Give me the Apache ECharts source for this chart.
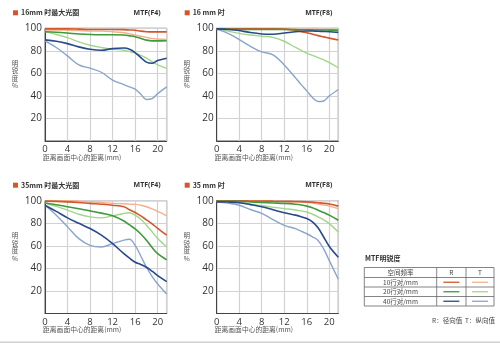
<!DOCTYPE html>
<html><head><meta charset="utf-8">
<script src="https://cdn.jsdelivr.net/npm/echarts@6/dist/echarts.min.js"></script>
<style>html,body{margin:0;padding:0;background:#fff}#c{width:500px;height:343px}</style>
</head><body><div id="c"></div>
<script>
// Distance from image centre (mm)
const X = [0, 2, 4, 6, 8, 10, 12, 14, 15, 16, 17, 18, 19, 20, 21.6];
const xTicks = [0, 4, 8, 12, 16, 20];
const yTicks = [20, 40, 60, 80, 100];

// Panel 1: 16mm wide open MTF(F4)
const p1_10R = [99.5, 99.5, 99.5, 99.3, 99, 99, 99, 98.8, 98.5, 98.3, 97.5, 97, 96.8, 96.8, 96.8];
const p1_10T = [98.5, 98.5, 98.3, 98, 97.5, 97.5, 97, 96, 95, 94, 93, 92, 91, 90.5, 90];
const p1_20R = [97, 96.5, 95.8, 95, 94.5, 94.3, 94.3, 94, 93.3, 92.5, 91, 89.5, 88.8, 88.8, 89];
const p1_20T = [97, 94.5, 91.7, 88, 85, 83, 81.5, 80.5, 79.3, 78, 76, 73.5, 70.5, 67.5, 64.5];
const p1_40R = [89.7, 88.5, 86.4, 83.5, 81.4, 80.5, 82, 82.5, 81.5, 78.5, 74, 70, 69, 71.5, 73.5];
const p1_40T = [88.8, 83, 75.5, 67.5, 64.6, 61, 54, 50, 48, 46, 41.5, 36.8, 37.5, 42, 48];

// Panel 2: 16mm MTF(F8)
const p2_10R = [99.6, 99.6, 99.6, 99.6, 99.5, 99.5, 99.3, 98.2, 97, 96, 94.8, 93.5, 92.4, 91.3, 89.6];
const p2_10T = [99.6, 99.6, 99.5, 99.5, 99.5, 99.5, 99.4, 99.3, 99.2, 99.2, 99.2, 99.1, 99, 99, 98.8];
const p2_20R = [99.3, 99.2, 99, 99, 99, 99, 99, 98.8, 98.7, 98.7, 98.6, 98.5, 98.5, 98.4, 98.3];
const p2_20T = [99.3, 97.5, 95.5, 94, 93, 92, 88.5, 83, 80.5, 78, 76, 74, 72, 69.5, 65];
const p2_40R = [99.5, 99, 98, 96.2, 95, 94.7, 95.8, 97, 97.4, 97.6, 97.6, 97.4, 97.2, 97, 96.4];
const p2_40T = [99, 95.5, 90, 84, 79, 76.5, 67.5, 56, 50, 44.5, 38.5, 35, 35.5, 40, 45.7];

// Panel 3: 35mm wide open MTF(F4)
const p3_10R = [99.6, 99.4, 99, 98.4, 97.6, 96.9, 96, 94.6, 92, 89.5, 86.5, 83, 79.5, 75.5, 69.5];
const p3_10T = [100, 100, 100, 99.6, 99, 98.4, 97.6, 97.3, 97, 96.7, 96, 94.6, 92.8, 90.5, 86.6];
const p3_20R = [98, 96.4, 94.6, 92.8, 91, 89, 86.6, 82, 78.5, 75, 70.5, 65, 58.5, 53, 47.5];
const p3_20T = [98, 95, 91.7, 88, 85.7, 84.8, 86.6, 88.7, 89.3, 87.2, 83.5, 78.3, 72.5, 66.4, 59];
const p3_40R = [96, 90.5, 84.8, 80, 75.3, 69.5, 62, 53, 49, 45.5, 43.5, 41, 37.5, 33.6, 28.3];
const p3_40T = [96, 87.2, 76.8, 66.4, 60.4, 59, 62, 65, 65.8, 60.4, 51, 41, 33, 26.2, 17.3];

// Panel 4: 35mm MTF(F8)
const p4_10R = [100, 100, 100, 99.8, 99.7, 99.6, 99.5, 99.3, 99.2, 99, 98.7, 98.2, 97.7, 97, 95.2];
const p4_10T = [99.6, 99.6, 99.6, 99.5, 99.4, 99.2, 99, 98.8, 98.7, 98.5, 98, 97, 96.2, 95.2, 93];
const p4_20R = [99.5, 99.5, 99.4, 99, 98.5, 98, 97.6, 96.8, 96.2, 95.2, 93.7, 91.6, 89.5, 87.2, 82.7];
const p4_20T = [99.5, 99.2, 98.5, 97, 95.5, 94.2, 93, 91.8, 91, 90, 88, 85.7, 83, 79.7, 72.2];
const p4_40R = [99, 98.8, 98.2, 96.5, 94.6, 92, 89.3, 87.2, 85.8, 84.2, 81.2, 76, 67.8, 59.4, 49.9];
const p4_40T = [99, 97.8, 96, 92.2, 88.7, 83.3, 78.2, 75.2, 73, 70.7, 68, 64.8, 57.3, 46.9, 30.4];

const panelTitles = ['16mm 时最大光圈', '16 mm 时', '35mm 时最大光圈', '35 mm 时'];
const panelMTF = ['MTF(F4)', 'MTF(F8)', 'MTF(F4)', 'MTF(F8)'];
const xName = '距离画面中心的距离(mm)';
const yNameChars = ['明', '锐', '度', '%'];
const legendRows = ['10行对/mm', '20行对/mm', '40行对/mm'];
const legendHeader = ['空间频率', 'R', 'T'];
const legendTitle = 'MTF明锐度';
const legendNote = 'R：径向值  T：纵向值';

const panels = [
  [p1_10R, p1_10T, p1_20R, p1_20T, p1_40R, p1_40T],
  [p2_10R, p2_10T, p2_20R, p2_20T, p2_40R, p2_40T],
  [p3_10R, p3_10T, p3_20R, p3_20T, p3_40R, p3_40T],
  [p4_10R, p4_10T, p4_20R, p4_20T, p4_40R, p4_40T]
];
const colors = ['#d0582c', '#f2b08c', '#3e9a3a', '#a2d68a', '#274a8c', '#8aa4cc'];
const widths = [1.6, 1.4, 1.6, 1.4, 1.6, 1.4];

const gridPos = [
  {left: 45, top: 28.3, width: 121.7, height: 112.7},
  {left: 216.7, top: 28.3, width: 121.6, height: 112.7},
  {left: 45, top: 200.7, width: 121.7, height: 112.8},
  {left: 216.7, top: 200.7, width: 121.6, height: 112.8}
];
const FONT = '"Open Sans", "Noto Sans CJK SC", sans-serif';

const grids = [], xAxes = [], yAxes = [], series = [], graphics = [];
gridPos.forEach((g, i) => {
  grids.push(Object.assign({show: true, borderColor: '#555', borderWidth: 1, backgroundColor: 'transparent'}, g));
  xAxes.push({
    type: 'value', gridIndex: i, min: 0, max: 21.6, interval: 4,
    axisLine: {show: true, lineStyle: {color: '#444', width: 1}},
    axisTick: {show: false},
    splitLine: {show: true, lineStyle: {color: '#d2d2d2', width: 1.2}},
    axisLabel: {show: true, margin: 4, fontSize: 9.5, color: '#333', fontFamily: FONT, showMaxLabel: false,
      formatter: v => xTicks.indexOf(v) >= 0 ? String(v) : ''}
  });
  yAxes.push({
    type: 'value', gridIndex: i, min: 0, max: 100, interval: 20,
    axisLine: {show: true, lineStyle: {color: '#444', width: 1}},
    axisTick: {show: false},
    splitLine: {show: true, lineStyle: {color: '#d2d2d2', width: 1.2}},
    axisLabel: {show: true, margin: 3, fontSize: 10, color: '#333', fontFamily: FONT,
      formatter: v => yTicks.indexOf(v) >= 0 ? String(v) : ''}
  });
  panels[i].forEach((arr, k) => {
    series.push({
      type: 'line', xAxisIndex: i, yAxisIndex: i, smooth: 0.35, symbol: 'none',
      z: k % 2 === 0 ? 3 : 2,
      lineStyle: {color: colors[k], width: widths[k]},
      data: X.map((x, j) => [x, arr[j]])
    });
  });
  // titles
  const tx = g.left - 32, ty = g.top - 15.5;
  graphics.push({type: 'rect', shape: {x: tx, y: ty - 2.5, width: 5, height: 5}, style: {fill: '#d9532b'}});
  graphics.push({type: 'text', x: tx + 8, y: ty, style: {text: panelTitles[i], font: 'bold 7px "Noto Sans CJK SC", sans-serif', fill: '#333', verticalAlign: 'middle'}});
  graphics.push({type: 'text', x: g.left + g.width - 6, y: ty, style: {text: panelMTF[i], font: 'bold 7px "Noto Sans", sans-serif', fill: '#333', align: 'right', verticalAlign: 'middle'}});
  graphics.push({type: 'text', x: g.left - 2, y: g.top + g.height + 16, style: {text: xName, font: '6.8px "Noto Sans CJK SC", sans-serif', fill: '#555', verticalAlign: 'middle'}});
  yNameChars.forEach((ch, c) => {
    graphics.push({type: 'text', x: g.left - 30, y: g.top + 35 + c * 7.5, style: {text: ch, font: '6.5px "Noto Sans CJK SC", sans-serif', fill: '#555', align: 'center', verticalAlign: 'middle'}});
  });
});

// Legend table
const tL = 364.3, tR = 494, c1 = 436.7, c2 = 466;
const rowsY = [267.5, 277.5, 287, 296.5, 306];
graphics.push({type: 'text', x: 365, y: 258.3, style: {text: legendTitle, font: 'bold 7px "Noto Sans CJK SC", sans-serif', fill: '#333', verticalAlign: 'middle'}});
rowsY.forEach(y => graphics.push({type: 'line', shape: {x1: tL, y1: y, x2: tR, y2: y}, style: {stroke: '#666', lineWidth: 0.8}}));
[tL, c1, c2, tR].forEach(x => graphics.push({type: 'line', shape: {x1: x, y1: rowsY[0], x2: x, y2: rowsY[4]}, style: {stroke: '#666', lineWidth: 0.8}}));
const cx = [(tL + c1) / 2, (c1 + c2) / 2, (c2 + tR) / 2];
legendHeader.forEach((t, k) => graphics.push({type: 'text', x: cx[k], y: (rowsY[0] + rowsY[1]) / 2, style: {text: t, font: '6.5px "Noto Sans CJK SC", sans-serif', fill: '#444', align: 'center', verticalAlign: 'middle'}}));
legendRows.forEach((t, r) => {
  const yy = (rowsY[r + 1] + rowsY[r + 2]) / 2;
  graphics.push({type: 'text', x: cx[0], y: yy, style: {text: t, font: '6.5px "Noto Sans CJK SC", sans-serif', fill: '#444', align: 'center', verticalAlign: 'middle'}});
  graphics.push({type: 'line', shape: {x1: cx[1] - 8, y1: yy, x2: cx[1] + 8, y2: yy}, style: {stroke: colors[r * 2], lineWidth: 1.3}});
  graphics.push({type: 'line', shape: {x1: cx[2] - 8, y1: yy, x2: cx[2] + 8, y2: yy}, style: {stroke: colors[r * 2 + 1], lineWidth: 1.3}});
});
graphics.push({type: 'text', x: 495, y: 321, style: {text: legendNote, font: '6.5px "Noto Sans CJK SC", sans-serif', fill: '#444', align: 'right', verticalAlign: 'middle'}});
graphics.push({type: 'line', shape: {x1: 0, y1: 342.3, x2: 500, y2: 342.3}, style: {stroke: '#cfcfcf', lineWidth: 1.5}});

const chart = echarts.init(document.getElementById('c'), null, {renderer: 'canvas'});
chart.setOption({
  backgroundColor: '#fff',
  animation: false,
  grid: grids, xAxis: xAxes, yAxis: yAxes, series: series, graphic: graphics
});
</script></body></html>
